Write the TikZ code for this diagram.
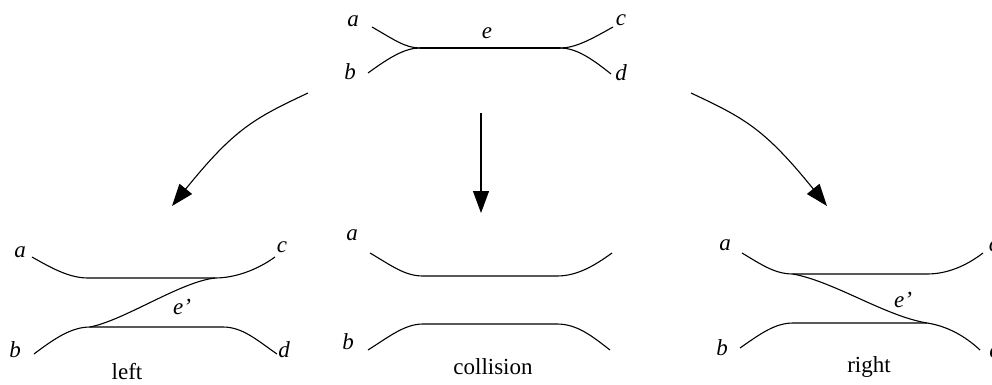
\documentclass[tikz,border=0pt]{standalone}
\usepackage{fontspec}
\setmainfont{Liberation Serif}
\usepackage{tikz}
\usetikzlibrary{arrows.meta,positioning}

\begin{document}
\begin{tikzpicture}[
    x=1pt, y=-1pt,
    lbl/.style={font=\fontsize{23}{26}\selectfont\itshape, inner sep=0pt},
    caption/.style={font=\fontsize{23}{26}\selectfont, inner sep=0pt},
    strand/.style={line width=1.1pt},
    edge/.style={line width=1.6pt},
    move/.style={line width=1.1pt, -{Triangle[length=22pt,width=16pt]}}
]
\useasboundingbox (0,0) rectangle (992,385);

% Before: a,b -- e -- c,d
\coordinate (ta) at (372,27);
\coordinate (tb) at (368,73);
\coordinate (tl) at (420,48);
\coordinate (tr) at (560,48);
\coordinate (tc) at (613,27);
\coordinate (td) at (611,74);
\draw[strand] (ta) .. controls (393,39) and (405,48) .. (tl);
\draw[strand] (tb) .. controls (390,57) and (405,48) .. (tl);
\draw[edge] (tl) -- (tr);
\draw[strand] (tr) .. controls (575,48) and (590,40) .. (tc);
\draw[strand] (tr) .. controls (575,48) and (590,57) .. (td);
\node[lbl] (la) at (353,21) {a};
\node[lbl] (lb) at (350,72) {b};
\node[lbl] (lc) at (621,20) {c};
\node[lbl] (ld) at (621,73) {d};
\node[lbl] (le) at (487,33) {e};

% Moves
\coordinate (srcL) at (308,93);
\coordinate (dstL) at (172,206);
\coordinate (srcM) at (481,113);
\coordinate (dstM) at (481,213);
\coordinate (srcR) at (691,93);
\coordinate (dstR) at (827,206);
\draw[move] (srcL) .. controls (255,118) and (235,128) .. (dstL);
\draw[move] (srcM) -- (dstM);
\draw[move] (srcR) .. controls (744,118) and (764,128) .. (dstR);

% Left
\coordinate (La) at (32,257);
\coordinate (Ltl) at (88,278);
\coordinate (Ltr) at (215,278);
\coordinate (Lc) at (275,257);
\coordinate (Lb) at (34,354);
\coordinate (Lbl) at (90,327);
\coordinate (Lbr) at (223,327);
\coordinate (Ld) at (277,354);
\draw[strand] (La) .. controls (53,269) and (70,278) .. (Ltl) -- (Ltr)
    .. controls (235,278) and (257,270) .. (Lc);
\draw[strand] (Lb) .. controls (55,338) and (72,327) .. (Lbl) -- (Lbr)
    .. controls (243,327) and (258,341) .. (Ld);
\draw[strand] (Lbl) .. controls (125,320) and (180,282) .. (Ltr);
\node[lbl] (Lla) at (20,252) {a};
\node[lbl] (Llb) at (15,350) {b};
\node[lbl] (Llc) at (282,247) {c};
\node[lbl] (Lld) at (284,350) {d};
\node[lbl] (Lle) at (182,307) {e'};
\node[caption] (Lcap) at (127,372) {left};

% Collision
\coordinate (Ma) at (370,253);
\coordinate (Mtl) at (423,276);
\coordinate (Mtr) at (557,276);
\coordinate (Mc) at (612,253);
\coordinate (Mb) at (368,350);
\coordinate (Mbl) at (423,324);
\coordinate (Mbr) at (557,324);
\coordinate (Md) at (610,350);
\draw[strand] (Ma) .. controls (392,266) and (405,276) .. (Mtl) -- (Mtr)
    .. controls (577,276) and (594,266) .. (Mc);
\draw[strand] (Mb) .. controls (390,336) and (405,324) .. (Mbl) -- (Mbr)
    .. controls (577,324) and (592,336) .. (Md);
\node[lbl] (Mla) at (352,235) {a};
\node[lbl] (Mlb) at (348,342) {b};
\node[caption] (Mcap) at (493,367) {collision};

% Right
\coordinate (Ra) at (742,253);
\coordinate (Rtl) at (793,274);
\coordinate (Rtr) at (927,274);
\coordinate (Rc) at (983,253);
\coordinate (Rb) at (740,348);
\coordinate (Rbl) at (793,323);
\coordinate (Rbr) at (927,323);
\coordinate (Rd) at (980,350);
\draw[strand] (Ra) .. controls (762,265) and (775,274) .. (Rtl) -- (Rtr)
    .. controls (947,274) and (966,266) .. (Rc);
\draw[strand] (Rb) .. controls (760,334) and (775,323) .. (Rbl) -- (Rbr)
    .. controls (947,326) and (965,336) .. (Rd);
\draw[strand] (Rtl) .. controls (835,282) and (885,316) .. (Rbr);
\node[lbl] (Rla) at (725,245) {a};
\node[lbl] (Rlb) at (722,348) {b};
\node[lbl] (Rlc) at (994,246) {c};
\node[lbl] (Rld) at (995,350) {d};
\node[lbl] (Rle) at (903,300) {e'};
\node[caption] (Rcap) at (869,367) {right};

\end{tikzpicture}
\end{document}
